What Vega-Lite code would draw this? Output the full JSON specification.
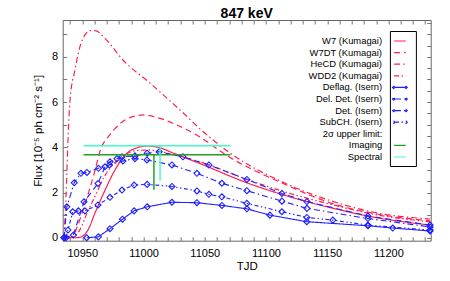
{
  "$schema": "https://vega.github.io/schema/vega-lite/v6.json",
  "autosize": {"type": "none"},
  "width": 368,
  "height": 220.7,
  "padding": {"left": 62.7, "top": 20, "right": 19.3, "bottom": 40.3},
  "config": {
    "font": "Liberation Sans",
    "view": {"stroke": "#666", "strokeWidth": 1},
    "axis": {"grid": false, "domain": false, "tickColor": "#777", "labelColor": "black", "titleColor": "black", "labelFontSize": 11, "titleFontSize": 11.5, "titleFontWeight": "normal", "labelFont": "Liberation Sans", "titleFont": "Liberation Sans"}
  },
  "title": {"text": "847 keV", "fontSize": 14, "fontWeight": "bold", "font": "Liberation Sans", "color": "black", "offset": -1},
  "datasets": {
    "curves": [
      {"s":"W7 (Kumagai)","g":"K","x":10936,"y":0},{"s":"W7 (Kumagai)","g":"K","x":10944,"y":0},{"s":"W7 (Kumagai)","g":"K","x":10948,"y":0.02},{"s":"W7 (Kumagai)","g":"K","x":10954.7,"y":0.35},{"s":"W7 (Kumagai)","g":"K","x":10960.4,"y":1.1},{"s":"W7 (Kumagai)","g":"K","x":10968.5,"y":2.1},{"s":"W7 (Kumagai)","g":"K","x":10976.7,"y":3.0},{"s":"W7 (Kumagai)","g":"K","x":10984.9,"y":3.65},{"s":"W7 (Kumagai)","g":"K","x":10993,"y":3.95},{"s":"W7 (Kumagai)","g":"K","x":11003,"y":4.05},{"s":"W7 (Kumagai)","g":"K","x":11012,"y":4.0},{"s":"W7 (Kumagai)","g":"K","x":11024,"y":3.75},{"s":"W7 (Kumagai)","g":"K","x":11052,"y":3.15},{"s":"W7 (Kumagai)","g":"K","x":11081,"y":2.5},{"s":"W7 (Kumagai)","g":"K","x":11114,"y":1.9},{"s":"W7 (Kumagai)","g":"K","x":11155,"y":1.3},{"s":"W7 (Kumagai)","g":"K","x":11187,"y":0.92},{"s":"W7 (Kumagai)","g":"K","x":11234,"y":0.56},
      {"s":"W7DT (Kumagai)","g":"K","x":10938,"y":0},{"s":"W7DT (Kumagai)","g":"K","x":10942,"y":0.05},{"s":"W7DT (Kumagai)","g":"K","x":10946,"y":0.5},{"s":"W7DT (Kumagai)","g":"K","x":10950.6,"y":1.23},{"s":"W7DT (Kumagai)","g":"K","x":10959,"y":2.7},{"s":"W7DT (Kumagai)","g":"K","x":10965.8,"y":4.03},{"s":"W7DT (Kumagai)","g":"K","x":10971,"y":4.45},{"s":"W7DT (Kumagai)","g":"K","x":10978,"y":4.9},{"s":"W7DT (Kumagai)","g":"K","x":10986,"y":5.24},{"s":"W7DT (Kumagai)","g":"K","x":11000,"y":5.43},{"s":"W7DT (Kumagai)","g":"K","x":11013.4,"y":5.28},{"s":"W7DT (Kumagai)","g":"K","x":11027,"y":4.99},{"s":"W7DT (Kumagai)","g":"K","x":11043.4,"y":4.54},{"s":"W7DT (Kumagai)","g":"K","x":11070.6,"y":3.55},{"s":"W7DT (Kumagai)","g":"K","x":11114,"y":2.4},{"s":"W7DT (Kumagai)","g":"K","x":11155,"y":1.5},{"s":"W7DT (Kumagai)","g":"K","x":11190.6,"y":1.05},{"s":"W7DT (Kumagai)","g":"K","x":11234,"y":0.75},
      {"s":"HeCD (Kumagai)","g":"K","x":10935,"y":0},{"s":"HeCD (Kumagai)","g":"K","x":10936.7,"y":1.8},{"s":"HeCD (Kumagai)","g":"K","x":10938.3,"y":4.3},{"s":"HeCD (Kumagai)","g":"K","x":10940,"y":6.1},{"s":"HeCD (Kumagai)","g":"K","x":10944,"y":7.42},{"s":"HeCD (Kumagai)","g":"K","x":10948.1,"y":8.45},{"s":"HeCD (Kumagai)","g":"K","x":10952.2,"y":8.97},{"s":"HeCD (Kumagai)","g":"K","x":10956.3,"y":9.16},{"s":"HeCD (Kumagai)","g":"K","x":10960.4,"y":9.16},{"s":"HeCD (Kumagai)","g":"K","x":10968.5,"y":8.82},{"s":"HeCD (Kumagai)","g":"K","x":10983.2,"y":7.86},{"s":"HeCD (Kumagai)","g":"K","x":11005.3,"y":6.84},{"s":"HeCD (Kumagai)","g":"K","x":11029.8,"y":5.65},{"s":"HeCD (Kumagai)","g":"K","x":11048.5,"y":4.7},{"s":"HeCD (Kumagai)","g":"K","x":11070.6,"y":3.75},{"s":"HeCD (Kumagai)","g":"K","x":11114,"y":2.45},{"s":"HeCD (Kumagai)","g":"K","x":11155,"y":1.6},{"s":"HeCD (Kumagai)","g":"K","x":11190.6,"y":1.1},{"s":"HeCD (Kumagai)","g":"K","x":11234,"y":0.83},
      {"s":"WDD2 (Kumagai)","g":"K","x":10936,"y":0},{"s":"WDD2 (Kumagai)","g":"K","x":10942,"y":0.02},{"s":"WDD2 (Kumagai)","g":"K","x":10948,"y":0.35},{"s":"WDD2 (Kumagai)","g":"K","x":10954,"y":1.1},{"s":"WDD2 (Kumagai)","g":"K","x":10961,"y":1.9},{"s":"WDD2 (Kumagai)","g":"K","x":10968,"y":2.7},{"s":"WDD2 (Kumagai)","g":"K","x":10976,"y":3.3},{"s":"WDD2 (Kumagai)","g":"K","x":10984,"y":3.65},{"s":"WDD2 (Kumagai)","g":"K","x":10994,"y":3.85},{"s":"WDD2 (Kumagai)","g":"K","x":11004,"y":3.88},{"s":"WDD2 (Kumagai)","g":"K","x":11024,"y":3.68},{"s":"WDD2 (Kumagai)","g":"K","x":11052,"y":3.25},{"s":"WDD2 (Kumagai)","g":"K","x":11081,"y":2.65},{"s":"WDD2 (Kumagai)","g":"K","x":11114,"y":2.05},{"s":"WDD2 (Kumagai)","g":"K","x":11155,"y":1.45},{"s":"WDD2 (Kumagai)","g":"K","x":11187,"y":1.05},{"s":"WDD2 (Kumagai)","g":"K","x":11234,"y":0.7},
      {"s":"Deflag. (Isern)","g":"I","x":10953.6,"y":0},{"s":"Deflag. (Isern)","g":"I","x":10963.1,"y":0.04},{"s":"Deflag. (Isern)","g":"I","x":10972.6,"y":0.4},{"s":"Deflag. (Isern)","g":"I","x":10982.8,"y":0.82},{"s":"Deflag. (Isern)","g":"I","x":10992.3,"y":1.19},{"s":"Deflag. (Isern)","g":"I","x":11003,"y":1.37},{"s":"Deflag. (Isern)","g":"I","x":11023.2,"y":1.57},{"s":"Deflag. (Isern)","g":"I","x":11043.6,"y":1.55},{"s":"Deflag. (Isern)","g":"I","x":11064,"y":1.43},{"s":"Deflag. (Isern)","g":"I","x":11084.4,"y":1.28},{"s":"Deflag. (Isern)","g":"I","x":11103.2,"y":1.0},{"s":"Deflag. (Isern)","g":"I","x":11133.3,"y":0.71},{"s":"Deflag. (Isern)","g":"I","x":11183.3,"y":0.53},{"s":"Deflag. (Isern)","g":"I","x":11203.5,"y":0.43},{"s":"Deflag. (Isern)","g":"I","x":11234,"y":0.3},
      {"s":"Del. Det. (Isern)","g":"I","x":10935,"y":0},{"s":"Del. Det. (Isern)","g":"I","x":10942.7,"y":0.12},{"s":"Del. Det. (Isern)","g":"I","x":10951.4,"y":1.59},{"s":"Del. Det. (Isern)","g":"I","x":10962.8,"y":2.4},{"s":"Del. Det. (Isern)","g":"I","x":10968.5,"y":3.14},{"s":"Del. Det. (Isern)","g":"I","x":10972.6,"y":3.36},{"s":"Del. Det. (Isern)","g":"I","x":10978.3,"y":3.5},{"s":"Del. Det. (Isern)","g":"I","x":10982.4,"y":3.58},{"s":"Del. Det. (Isern)","g":"I","x":10993,"y":3.62},{"s":"Del. Det. (Isern)","g":"I","x":11003,"y":3.74},{"s":"Del. Det. (Isern)","g":"I","x":11012.8,"y":3.8},{"s":"Del. Det. (Isern)","g":"I","x":11032.2,"y":3.58},{"s":"Del. Det. (Isern)","g":"I","x":11053.4,"y":3.22},{"s":"Del. Det. (Isern)","g":"I","x":11084.4,"y":2.58},{"s":"Del. Det. (Isern)","g":"I","x":11113,"y":1.96},{"s":"Del. Det. (Isern)","g":"I","x":11133.4,"y":1.6},{"s":"Del. Det. (Isern)","g":"I","x":11183.2,"y":0.96},{"s":"Del. Det. (Isern)","g":"I","x":11234,"y":0.56},
      {"s":"Det. (Isern)","g":"I","x":10935.1,"y":0},{"s":"Det. (Isern)","g":"I","x":10937.4,"y":1.37},{"s":"Det. (Isern)","g":"I","x":10943.4,"y":2.43},{"s":"Det. (Isern)","g":"I","x":10948.9,"y":2.85},{"s":"Det. (Isern)","g":"I","x":10953.8,"y":2.89},{"s":"Det. (Isern)","g":"I","x":10963.2,"y":3.07},{"s":"Det. (Isern)","g":"I","x":10972.2,"y":3.22},{"s":"Det. (Isern)","g":"I","x":10983.2,"y":3.4},{"s":"Det. (Isern)","g":"I","x":10993,"y":3.5},{"s":"Det. (Isern)","g":"I","x":11002.8,"y":3.44},{"s":"Det. (Isern)","g":"I","x":11023.2,"y":3.22},{"s":"Det. (Isern)","g":"I","x":11043.6,"y":2.85},{"s":"Det. (Isern)","g":"I","x":11064,"y":2.41},{"s":"Det. (Isern)","g":"I","x":11084.4,"y":2.08},{"s":"Det. (Isern)","g":"I","x":11113,"y":1.62},{"s":"Det. (Isern)","g":"I","x":11133.4,"y":1.3},{"s":"Det. (Isern)","g":"I","x":11183.2,"y":0.85},{"s":"Det. (Isern)","g":"I","x":11234,"y":0.48},
      {"s":"SubCH. (Isern)","g":"I","x":10936.7,"y":0},{"s":"SubCH. (Isern)","g":"I","x":10938.3,"y":0.34},{"s":"SubCH. (Isern)","g":"I","x":10942.2,"y":1.15},{"s":"SubCH. (Isern)","g":"I","x":10946.8,"y":1.19},{"s":"SubCH. (Isern)","g":"I","x":10952.2,"y":1.19},{"s":"SubCH. (Isern)","g":"I","x":10962.8,"y":1.45},{"s":"SubCH. (Isern)","g":"I","x":10972.6,"y":1.79},{"s":"SubCH. (Isern)","g":"I","x":10982.4,"y":2.11},{"s":"SubCH. (Isern)","g":"I","x":10992.3,"y":2.33},{"s":"SubCH. (Isern)","g":"I","x":11003,"y":2.36},{"s":"SubCH. (Isern)","g":"I","x":11023.2,"y":2.27},{"s":"SubCH. (Isern)","g":"I","x":11043.6,"y":2.07},{"s":"SubCH. (Isern)","g":"I","x":11053.4,"y":1.92},{"s":"SubCH. (Isern)","g":"I","x":11064,"y":1.81},{"s":"SubCH. (Isern)","g":"I","x":11084.4,"y":1.52},{"s":"SubCH. (Isern)","g":"I","x":11113,"y":1.15},{"s":"SubCH. (Isern)","g":"I","x":11133.4,"y":0.9},{"s":"SubCH. (Isern)","g":"I","x":11154.6,"y":0.78},{"s":"SubCH. (Isern)","g":"I","x":11183.2,"y":0.56},{"s":"SubCH. (Isern)","g":"I","x":11234,"y":0.34}
    ],
    "limits": [
      {"s":"Imaging","x":10951,"x2":11071,"y":3.67,"y2":3.67},
      {"s":"Imaging","x":11008.5,"x2":11008.5,"y":3.67,"y2":2.12},
      {"s":"Spectral","x":10951,"x2":11071,"y":4.07,"y2":4.07},
      {"s":"Spectral","x":11013.5,"x2":11013.5,"y":4.07,"y2":2.52}
    ]
  },
  "layer": [
    {
      "data": {"name": "curves"},
      "transform": [{"filter": "datum.g === 'K'"}],
      "mark": {"type": "line", "interpolate": "monotone", "strokeWidth": 1.2},
      "encoding": {
        "x": {"field": "x", "type": "quantitative", "scale": {"domain": [10934, 11234.5], "nice": false, "zero": false},
          "axis": {"orient": "bottom", "title": "TJD", "values": [10940,10950,10960,10970,10980,10990,11000,11010,11020,11030,11040,11050,11060,11070,11080,11090,11100,11110,11120,11130,11140,11150,11160,11170,11180,11190,11200,11210,11220,11230],
            "labelExpr": "datum.value % 50 === 0 ? datum.label : ''", "format": "d", "tickSize": -4, "labelPadding": 11, "labelFlush": false, "labelOverlap": false, "titlePadding": 2}},
        "y": {"field": "y", "type": "quantitative", "scale": {"domain": [-0.13, 9.63], "nice": false, "zero": false},
          "axis": {"orient": "left", "title": "Flux [10⁻⁵ ph cm⁻² s⁻¹]", "values": [0,0.5,1,1.5,2,2.5,3,3.5,4,4.5,5,5.5,6,6.5,7,7.5,8,8.5,9,9.5],
            "labelExpr": "datum.value % 2 === 0 ? datum.label : ''", "format": "d", "tickSize": -4, "labelPadding": 9, "labelFlush": false, "labelOverlap": false, "titlePadding": 8}},
        "color": {"field": "s", "type": "nominal",
          "scale": {"domain": ["W7 (Kumagai)","W7DT (Kumagai)","HeCD (Kumagai)","WDD2 (Kumagai)","Deflag. (Isern)","Del. Det. (Isern)","Det. (Isern)","SubCH. (Isern)","2σ upper limit:","Imaging","Spectral"],
            "range": ["#ff1f4f","#ff1f4f","#ff1f4f","#ff1f4f","#1f1fff","#1f1fff","#1f1fff","#1f1fff","rgba(0,0,0,0)","#22a022","#3dffc8"]},
          "legend": {"orient": "none", "legendX": 327.2, "legendY": 11, "title": null, "labelAlign": "left", "labelOffset": 0,
            "symbolSize": 100, "symbolStrokeWidth": 1.2, "rowPadding": 0.6, "padding": 4, "fillColor": "white", "strokeColor": "black",
            "labelFont": "Liberation Sans", "labelFontSize": 9.4, "labelColor": "black", "labelLimit": 200,
            "encode": {
              "symbols": {"update": {"shape": {"signal": "indexof(['Deflag. (Isern)','Del. Det. (Isern)','Det. (Isern)','SubCH. (Isern)'], datum.value) >= 0 ? 'M-0.98,0L0.98,0M-1.235,-0.23L-1.005,0L-1.235,0.23L-1.465,0ZM1.235,-0.23L1.465,0L1.235,0.23L1.005,0ZM1.85,0L1.85,0.0001' : 'M-1.165,0L1.165,0M1.85,0L1.85,0.0001'"}, "fill": {"value": "transparent"}}},
              "labels": {"update": {"align": {"value": "left"}, "dx": {"signal": "-23.7-[60.1,72.6,71.6,73.6,59.5,66.3,47.0,62.7,59.4,33.4,34.5][indexof(['W7 (Kumagai)','W7DT (Kumagai)','HeCD (Kumagai)','WDD2 (Kumagai)','Deflag. (Isern)','Del. Det. (Isern)','Det. (Isern)','SubCH. (Isern)','2σ upper limit:','Imaging','Spectral'], datum.value)]"}}}
            }}},
        "strokeDash": {"field": "s", "type": "nominal",
          "scale": {"domain": ["W7 (Kumagai)","W7DT (Kumagai)","HeCD (Kumagai)","WDD2 (Kumagai)","Deflag. (Isern)","Del. Det. (Isern)","Det. (Isern)","SubCH. (Isern)","2σ upper limit:","Imaging","Spectral"],
            "range": [[1,0],[6,4],[6,3,1.5,3],[5,2.5,1.5,2.5,1.5,2.5],[1,0],[6,4],[6,3,1.5,3],[4,2.5,1.5,2.5,1.5,2.5],[1,0],[1,0],[1,0]]}}
      }
    },
    {
      "data": {"name": "curves"},
      "transform": [{"filter": "datum.g === 'I'"}],
      "mark": {"type": "line", "strokeWidth": 1.1},
      "encoding": {
        "x": {"field": "x", "type": "quantitative",
          "axis": {"orient": "top", "title": null, "labels": false, "values": [10940,10950,10960,10970,10980,10990,11000,11010,11020,11030,11040,11050,11060,11070,11080,11090,11100,11110,11120,11130,11140,11150,11160,11170,11180,11190,11200,11210,11220,11230], "tickSize": -4}},
        "y": {"field": "y", "type": "quantitative",
          "axis": {"orient": "right", "title": null, "labels": false, "values": [0,0.5,1,1.5,2,2.5,3,3.5,4,4.5,5,5.5,6,6.5,7,7.5,8,8.5,9,9.5], "tickSize": -4}},
        "color": {"field": "s", "type": "nominal"},
        "strokeDash": {"field": "s", "type": "nominal"}
      }
    },
    {
      "data": {"name": "curves"},
      "transform": [{"filter": "datum.g === 'I'"}],
      "mark": {"type": "point", "shape": "diamond", "filled": false, "size": 36, "strokeWidth": 1.1, "opacity": 1},
      "encoding": {
        "x": {"field": "x", "type": "quantitative", "axis": null},
        "y": {"field": "y", "type": "quantitative", "axis": null},
        "color": {"field": "s", "type": "nominal"}
      }
    },
    {
      "data": {"name": "limits"},
      "mark": {"type": "rule", "strokeWidth": 1.5},
      "encoding": {
        "x": {"field": "x", "type": "quantitative", "axis": null},
        "x2": {"field": "x2"},
        "y": {"field": "y", "type": "quantitative", "axis": null},
        "y2": {"field": "y2"},
        "color": {"field": "s", "type": "nominal"}
      }
    }
  ]
}
